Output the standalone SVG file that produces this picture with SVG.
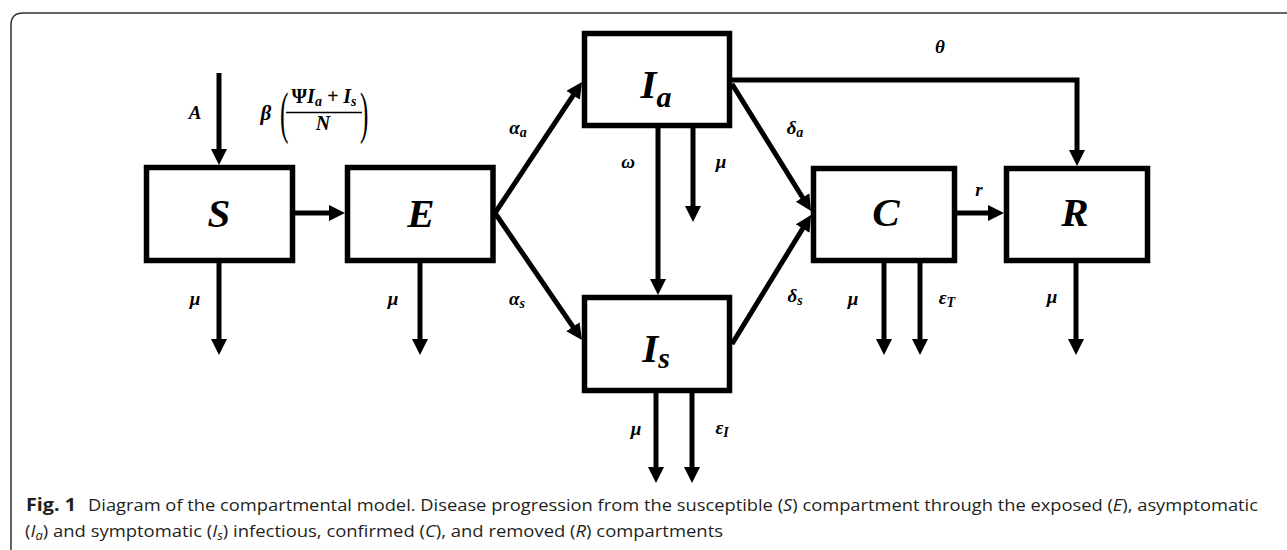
<svg xmlns="http://www.w3.org/2000/svg" width="1287" height="550" viewBox="0 0 1287 550">
<style>
.box{fill:#fff;stroke:#000;stroke-width:5.5}
.c{fill:none;stroke:#000;stroke-width:5;marker-end:url(#ah)}
.m{font-family:"Liberation Serif","DejaVu Serif",serif;font-weight:bold;font-style:italic;fill:#000}
.big{font-size:41px}
.sm{font-size:19px}
.cap{font-family:"Open Sans","Noto Sans","Liberation Sans",sans-serif;font-size:17px;fill:#231f20}
</style>
<defs>
<marker id="ah" markerUnits="userSpaceOnUse" viewBox="0 0 16 16" markerWidth="16" markerHeight="16" refX="6" refY="8" orient="auto">
<path d="M0,0 L16,8 L0,16 z" fill="#000"/>
</marker>
</defs>
<rect width="1287" height="550" fill="#fff"/>
<path d="M11,550 V25 Q11,13 23,13 H1287" fill="none" stroke="#333" stroke-width="1.5"/>

<g id="connectors">
<line class="c" x1="219" y1="73" x2="219" y2="155"/>
<line class="c" x1="295" y1="213" x2="335" y2="213"/>
<line class="c" x1="219" y1="263" x2="219" y2="345"/>
<line class="c" x1="420" y1="263" x2="420" y2="345"/>
<line class="c" x1="495" y1="213" x2="576.5" y2="90.3"/>
<line class="c" x1="495" y1="213" x2="576.3" y2="331.7"/>
<line class="c" x1="658" y1="128" x2="658" y2="285"/>
<line class="c" x1="693" y1="128" x2="693" y2="212"/>
<polyline class="c" points="732,80 1077,80 1077,156"/>
<line class="c" x1="732" y1="84" x2="805.7" y2="202.5"/>
<line class="c" x1="732" y1="344" x2="805.8" y2="223.5"/>
<line class="c" x1="656" y1="393" x2="656" y2="473"/>
<line class="c" x1="692" y1="393" x2="692" y2="473"/>
<line class="c" x1="957" y1="213" x2="994" y2="213"/>
<line class="c" x1="884" y1="263" x2="884" y2="345"/>
<line class="c" x1="920" y1="263" x2="920" y2="345"/>
<line class="c" x1="1076" y1="263" x2="1076" y2="345"/>
</g>

<g id="node-S"><rect class="box" x="146.5" y="167.5" width="146" height="93"/><text class="m big" x="219" y="227" text-anchor="middle">S</text></g>
<g id="node-E"><rect class="box" x="347.5" y="167.5" width="145.5" height="93"/><text class="m big" x="421" y="227" text-anchor="middle">E</text></g>
<g id="node-Ia"><rect class="box" x="584.5" y="33.5" width="145" height="92"/><text class="m big" x="656" y="98" text-anchor="middle">I<tspan font-size="30" dy="9">a</tspan></text></g>
<g id="node-Is"><rect class="box" x="584.5" y="297.5" width="145" height="93"/><text class="m big" x="656" y="362" text-anchor="middle">I<tspan font-size="30" dy="6">s</tspan></text></g>
<g id="node-C"><rect class="box" x="813.5" y="168.5" width="141" height="92"/><text class="m big" x="886" y="226" text-anchor="middle">C</text></g>
<g id="node-R"><rect class="box" x="1006.5" y="168.5" width="141" height="92"/><text class="m big" x="1075" y="226" text-anchor="middle">R</text></g>

<g id="labels">
<text class="m sm" x="195" y="119" text-anchor="middle">A</text>
<text class="m" font-size="21" x="266" y="120" text-anchor="middle">β</text>
<text x="280" y="132" font-family="Liberation Serif,serif" font-size="56" transform="translate(280 132) scale(0.45 1) translate(-280 -132)">(</text>
<text x="360" y="132" font-family="Liberation Serif,serif" font-size="56" transform="translate(360 132) scale(0.45 1) translate(-360 -132)">)</text>
<text class="m" font-size="20" x="324" y="103" text-anchor="middle"><tspan font-style="normal">Ψ</tspan>I<tspan font-size="14" dy="3">a</tspan><tspan dy="-3"> + I</tspan><tspan font-size="14" dy="3">s</tspan></text>
<line x1="286" y1="112.5" x2="362" y2="112.5" stroke="#000" stroke-width="1.3"/>
<text class="m" font-size="20" x="323" y="130" text-anchor="middle">N</text>

<text class="m sm" x="195" y="305" text-anchor="middle">μ</text>
<text class="m sm" x="393" y="305" text-anchor="middle">μ</text>
<text class="m sm" x="518" y="134" text-anchor="middle">α<tspan font-size="14" dy="3">a</tspan></text>
<text class="m sm" x="517" y="305" text-anchor="middle">α<tspan font-size="14" dy="3">s</tspan></text>
<text class="m sm" x="628" y="168" text-anchor="middle">ω</text>
<text class="m sm" x="721" y="168" text-anchor="middle">μ</text>
<text class="m sm" x="940" y="53" text-anchor="middle">θ</text>
<text class="m sm" x="795" y="134" text-anchor="middle">δ<tspan font-size="14" dy="3">a</tspan></text>
<text class="m sm" x="795" y="302" text-anchor="middle">δ<tspan font-size="14" dy="3">s</tspan></text>
<text class="m sm" x="979" y="196" text-anchor="middle">r</text>
<text class="m sm" x="853" y="305" text-anchor="middle">μ</text>
<text class="m sm" x="947" y="304" text-anchor="middle">ε<tspan font-size="14" dy="3">T</tspan></text>
<text class="m sm" x="1052" y="303" text-anchor="middle">μ</text>
<text class="m sm" x="636" y="435" text-anchor="middle">μ</text>
<text class="m sm" x="722" y="434" text-anchor="middle">ε<tspan font-size="14" dy="3">I</tspan></text>
</g>

<g id="caption">
<text class="cap" x="26" y="511" font-weight="bold" textLength="50" lengthAdjust="spacingAndGlyphs">Fig. 1</text>
<text class="cap" x="88" y="511" textLength="1170" lengthAdjust="spacingAndGlyphs">Diagram of the compartmental model. Disease progression from the susceptible (<tspan font-style="italic">S</tspan>) compartment through the exposed (<tspan font-style="italic">E</tspan>), asymptomatic</text>
<text class="cap" x="25" y="537" textLength="698" lengthAdjust="spacingAndGlyphs">(<tspan font-style="italic">I</tspan><tspan font-style="italic" font-size="12" baseline-shift="-3">a</tspan>) and symptomatic (<tspan font-style="italic">I</tspan><tspan font-style="italic" font-size="12" baseline-shift="-3">s</tspan>) infectious, confirmed (<tspan font-style="italic">C</tspan>), and removed (<tspan font-style="italic">R</tspan>) compartments</text>
</g>
</svg>
